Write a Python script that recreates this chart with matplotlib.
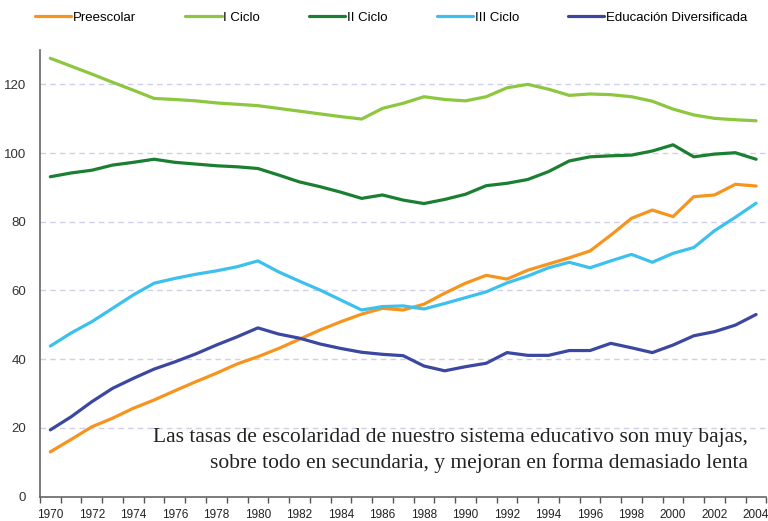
#! /usr/bin/env python3

import matplotlib
matplotlib.use('Agg')
import matplotlib.pyplot as plt

# Data (tasas de escolaridad, 1970-2004)
years = list(range(1970, 2005))

preescolar = [13.0, 16.6, 20.3, 22.8, 25.7, 28.1, 30.8, 33.4, 35.9, 38.6,
              40.7, 43.1, 45.8, 48.5, 50.9, 53.1, 54.8, 54.3, 56.0, 59.2,
              62.1, 64.4, 63.3, 65.9, 67.7, 69.5, 71.5, 76.1, 81.0, 83.4,
              81.5, 87.3, 87.8, 90.9, 90.4]

i_ciclo = [127.6, 125.3, 123.0, 120.6, 118.3, 115.9, 115.6, 115.2, 114.6, 114.2,
           113.8, 113.0, 112.2, 111.4, 110.6, 109.9, 113.0, 114.5, 116.4, 115.6,
           115.2, 116.4, 119.0, 120.0, 118.6, 116.8, 117.2, 117.0, 116.4, 115.1,
           112.8, 111.1, 110.1, 109.7, 109.4]

ii_ciclo = [93.1, 94.2, 95.0, 96.5, 97.3, 98.2, 97.3, 96.8, 96.3, 96.0,
            95.5, 93.6, 91.6, 90.2, 88.6, 86.8, 87.8, 86.3, 85.3, 86.5,
            88.0, 90.5, 91.2, 92.3, 94.6, 97.7, 98.9, 99.2, 99.4, 100.6,
            102.4, 98.9, 99.7, 100.1, 98.2]

iii_ciclo = [43.8, 47.6, 50.9, 54.8, 58.7, 62.1, 63.5, 64.7, 65.7, 66.9,
             68.6, 65.4, 62.7, 60.1, 57.2, 54.3, 55.3, 55.5, 54.6, 56.2,
             57.9, 59.6, 62.2, 64.2, 66.6, 68.2, 66.6, 68.6, 70.5, 68.2,
             70.8, 72.5, 77.4, 81.3, 85.4]

ed_diversificada = [19.4, 23.2, 27.6, 31.5, 34.4, 37.1, 39.2, 41.5, 44.1, 46.5,
                    49.1, 47.3, 46.1, 44.4, 43.1, 42.0, 41.4, 41.0, 38.0, 36.6,
                    37.8, 38.8, 41.9, 41.1, 41.1, 42.5, 42.5, 44.6, 43.3, 41.9,
                    44.1, 46.8, 48.0, 49.9, 53.0]

series_names = ['Preescolar', 'I Ciclo', 'II Ciclo', 'III Ciclo', 'Educación Diversificada']
series_data = [preescolar, i_ciclo, ii_ciclo, iii_ciclo, ed_diversificada]
series_colors = ['#F7941E', '#8DC63F', '#1B7F32', '#3CC0EE', '#3B47A0']

note = ("Las tasas de escolaridad de nuestro sistema educativo son muy bajas,\n"
        "sobre todo en secundaria, y mejoran en forma demasiado lenta")

sans = ['Liberation Sans Narrow', 'Liberation Sans', 'DejaVu Sans']

fig = plt.figure(figsize=(7.68, 5.21), dpi=100)
ax = fig.add_axes([0.052, 0.047, 0.946, 0.857])

for name, vals, col in zip(series_names, series_data, series_colors):
    ax.plot(years, vals, color=col, linewidth=2.3, label=name,
            solid_capstyle='round', solid_joinstyle='round')

# Axes
ax.set_xlim(years[0] - 0.5, years[-1] + 0.5)
ax.set_ylim(0, 130)
ax.set_yticks(range(0, 121, 20))
ax.set_xticks([y - 0.5 for y in years] + [years[-1] + 0.5])
ax.set_xticklabels([])
ax.set_xticks(years[::2], minor=True)
ax.set_xticklabels([str(y) for y in years[::2]], minor=True)

ax.tick_params(axis='x', which='major', direction='out', length=4, width=1, color='#555555')
ax.tick_params(axis='x', which='minor', length=0, pad=9, labelsize=8.5, labelcolor='#222222')
ax.tick_params(axis='y', length=0, pad=10, labelsize=9.5, labelcolor='#333333')
for lab in ax.get_xticklabels(minor=True):
    lab.set_family(sans)
for lab in ax.get_yticklabels():
    lab.set_family(['Liberation Sans', 'DejaVu Sans'])

for s in ['top', 'right']:
    ax.spines[s].set_visible(False)
for s in ['left', 'bottom']:
    ax.spines[s].set_color('#666666')
    ax.spines[s].set_linewidth(1.2)

# Gridlines
for g in range(20, 121, 20):
    ax.axhline(g, color='#CFCFEA', linewidth=1, linestyle=(0, (4, 3)), zorder=0)

# Legend
fig.legend(loc='center left', bbox_to_anchor=(0.0456, 0.966), ncol=5, frameon=False,
           handlelength=2.75, handletextpad=0.15, columnspacing=3.7,
           borderaxespad=0, borderpad=0,
           prop={'family': sans, 'size': 9.5})

# Note
ax.text(0.974, 0.103, note, transform=ax.transAxes, ha='right', va='center',
        fontsize=15.5, family=['Liberation Serif', 'DejaVu Serif'], color='#222222',
        multialignment='right', linespacing=1.35)

fig.savefig('out.png', dpi=100)
